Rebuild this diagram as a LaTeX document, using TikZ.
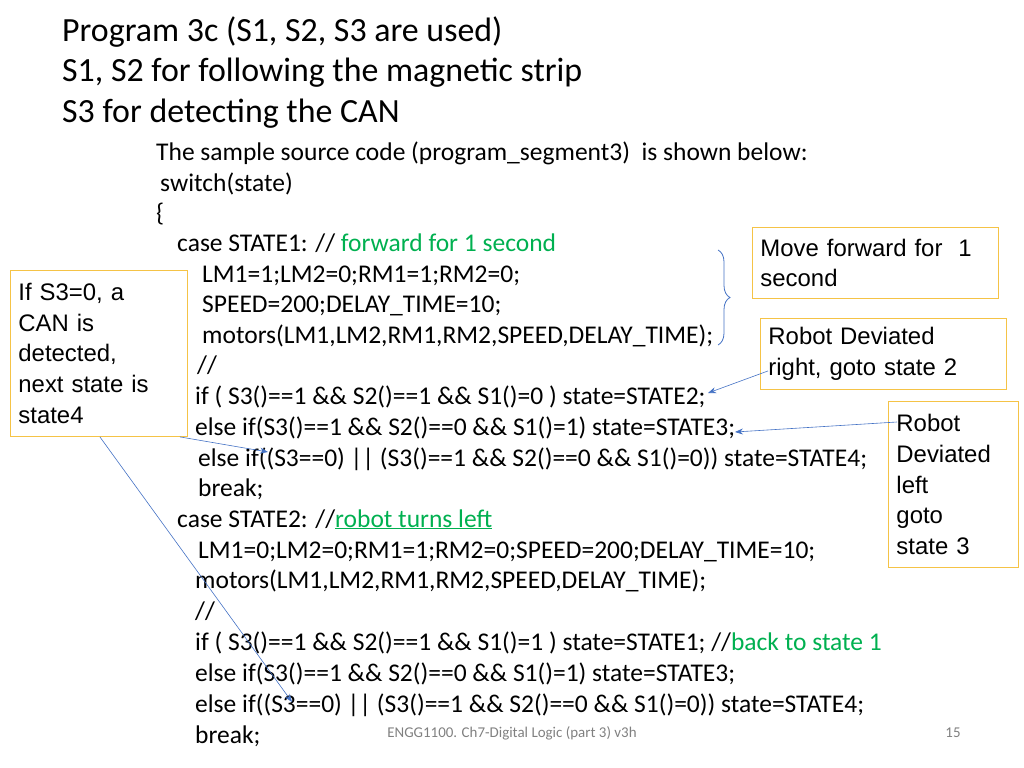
\documentclass[tikz,border=0pt]{standalone}
\usepackage{fontspec}
\setmainfont{Carlito}
\newfontfamily\boxfont{Liberation Sans}
\usetikzlibrary{positioning,decorations.pathreplacing,arrows.meta}
\definecolor{codegreen}{RGB}{0,176,80}
\definecolor{boxedge}{RGB}{245,195,70}
\definecolor{notearrow}{RGB}{68,114,196}
\tikzset{
  titleline/.style={anchor=base west,inner sep=0,font=\fontsize{34}{40}\selectfont},
  codeline/.style={anchor=base west,inner sep=0,font=\fontsize{25.6}{30}\selectfont},
  notebox/.style={draw=boxedge,fill=white,line width=0.9bp,anchor=north west,align=left,
    inner xsep=8bp,inner ysep=4bp,font=\boxfont\fontsize{24}{31}\selectfont},
  notearr/.style={draw=notearrow,line width=0.6bp,-{Stealth[length=8bp,width=6bp]}}
}
\newcommand{\grn}[1]{\textcolor{codegreen}{#1}}
\begin{document}
\begin{tikzpicture}[x=1bp,y=-1bp]
\useasboundingbox (0,0) rectangle (1024,768);
% title
\node[titleline] (t1) at (62,42) {Program 3c (S1, S2, S3 are used)};
\node[titleline] (t2) at (62,82) {S1, S2 for following the magnetic strip};
\node[titleline] (t3) at (62,122) {S3 for detecting the CAN};
% code
\node[codeline] (c1) at (156,160) {The sample source code (program\_segment3)\ \ is shown below:};
\node[codeline] (c2) at (160,191) {switch(state)};
\node[codeline] (c3) at (156,221) {\{};
\node[codeline] (c4) at (177,251) {case STATE1: // \grn{forward for 1 second}};
\node[codeline] (c5) at (202,282) {LM1=1;LM2=0;RM1=1;RM2=0;};
\node[codeline] (c6) at (202,312) {SPEED=200;DELAY\_TIME=10;};
\node[codeline] (c7) at (202,343) {motors(LM1,LM2,RM1,RM2,SPEED,DELAY\_TIME);};
\node[codeline] (c8) at (197,373) {//};
\node[codeline] (c9) at (195,404) {if ( S3()==1 \&\& S2()==1 \&\& S1()=0 ) state=STATE2;};
\node[codeline] (c10) at (195,435) {else if(S3()==1 \&\& S2()==0 \&\& S1()=1) state=STATE3;};
\node[codeline] (c11) at (198,466) {else if((S3==0) || (S3()==1 \&\& S2()==0 \&\& S1()=0)) state=STATE4;};
\node[codeline] (c12) at (198,496) {break;};
\node[codeline] (c13) at (177,527) {case STATE2: //\grn{\underline{robot turns left}}};
\node[codeline] (c14) at (198,558) {LM1=0;LM2=0;RM1=1;RM2=0;SPEED=200;DELAY\_TIME=10;};
\node[codeline] (c15) at (195,588) {motors(LM1,LM2,RM1,RM2,SPEED,DELAY\_TIME);};
\node[codeline] (c16) at (195,619) {//};
\node[codeline] (c17) at (195,650) {if ( S3()==1 \&\& S2()==1 \&\& S1()=1 ) state=STATE1; //\grn{back to state 1}};
\node[codeline] (c18) at (195,681) {else if(S3()==1 \&\& S2()==0 \&\& S1()=1) state=STATE3;};
\node[codeline] (c19) at (195,712) {else if((S3==0) || (S3()==1 \&\& S2()==0 \&\& S1()=0)) state=STATE4;};
\node[codeline] (c20) at (195,743) {break;};
% notes
\node[notebox,minimum width=246bp,minimum height=71bp,text width=230bp] (fwd) at (752,227) {Move forward for\ \ 1\\second};
\node[notebox,minimum width=246bp,minimum height=71bp,text width=230bp] (right) at (760,318) {Robot Deviated\\right, goto state 2};
\node[notebox,minimum width=130bp,minimum height=166bp,text width=114bp] (left) at (888,401) {Robot\\Deviated\\left\\goto\\state 3};
\node[notebox,minimum width=177bp,minimum height=166bp,text width=161bp] (can) at (10,270) {If S3=0, a\\CAN is\\detected,\\next state is\\state4};
% brace and arrows
\draw[notearrow,line width=0.8bp,decorate,decoration={brace,amplitude=12bp}] (718,250) -- (718,345);
\coordinate (rtip) at (708,393);
\coordinate (ltip) at (735,432);
\coordinate (ctip1) at (268,452);
\coordinate (ctip2) at (292,702);
\draw[notearr] ([shift={(8,17)}]right.west) -- (rtip);
\draw[notearr] ([shift={(9,21)}]left.north west) -- (ltip);
\draw[notearr] ([shift={(-8,0)}]can.south east) -- (ctip1);
\draw[notearr] ([shift={(-88,0)}]can.south east) -- (ctip2);
% footer
\node[inner sep=0,text=gray,font=\fontsize{15}{17}\selectfont] (foot) at (512,733) {ENGG1100. Ch7-Digital Logic (part 3) v3h};
\node[inner sep=0,text=gray,font=\fontsize{15}{17}\selectfont] (page) at (953,733) {15};
\end{tikzpicture}
\end{document}
